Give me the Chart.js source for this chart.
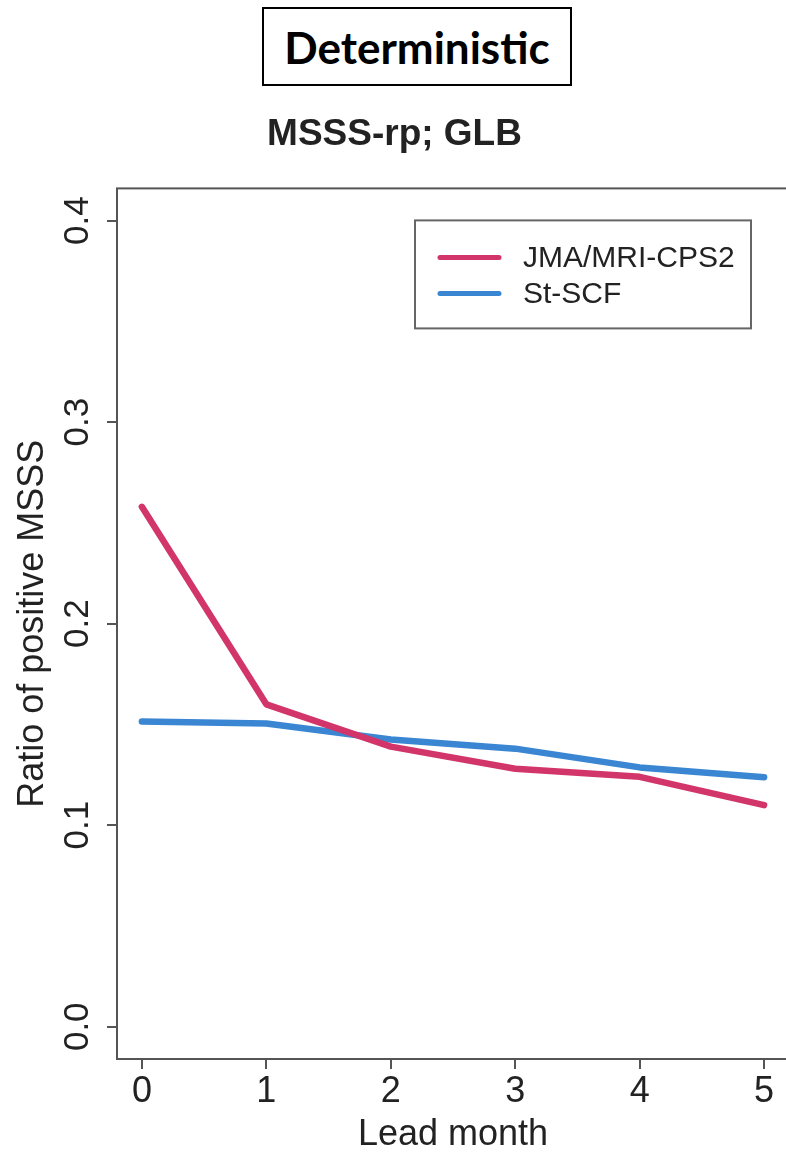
<!DOCTYPE html>
<html>
<head>
<meta charset="utf-8">
<script src="https://cdn.jsdelivr.net/npm/chart.js@4.4.1/dist/chart.umd.min.js"></script>
<style>
    html, body { margin: 0; padding: 0; background: #fff; overflow: hidden; }
    #wrap { position: relative; width: 786px; height: 1153px; overflow: hidden; background: #fff; }
    #chart { position: absolute; left: 0; top: 0; }
    #tag {
        position: absolute; left: 262px; top: 7px; width: 306px; height: 75px;
        border: 2px solid #000; background: #fff;
        font: bold 44px Lato, "Open Sans", sans-serif; color: #000;
        display: flex; align-items: center; justify-content: center;
    }
</style>
</head>
<body>
<div id="wrap">
    <canvas id="chart" width="792" height="1153"></canvas>
    <div id="tag">Deterministic</div>
</div>
<script>
const leadMonths = [0, 1, 2, 3, 4, 5];
const jmaValues = [0.258, 0.160, 0.139, 0.128, 0.124, 0.110];
const stScfValues = [0.1515, 0.1505, 0.1425, 0.138, 0.1287, 0.1238];
const xTicks = [0, 1, 2, 3, 4, 5];
const yTicks = [0, 0.1, 0.2, 0.3, 0.4];
const seriesNames = ["JMA/MRI-CPS2", "St-SCF"];

const textColor = "#222";
const axisColor = "#555";
const font = "'Liberation Sans', Arial, sans-serif";

// box, rotated y labels and legend the way R draws them
const rStyle = {
    id: "rStyle",
    afterDraw(chart) {
        const { ctx, chartArea, scales } = chart;
        ctx.save();
        ctx.strokeStyle = axisColor;
        ctx.lineWidth = 2;
        ctx.strokeRect(chartArea.left, chartArea.top,
            chartArea.right - chartArea.left, chartArea.bottom - chartArea.top);

        ctx.fillStyle = textColor;
        ctx.font = "35px " + font;
        ctx.textAlign = "center";
        ctx.textBaseline = "middle";
        scales.y.ticks.forEach((t) => {
            const y = scales.y.getPixelForValue(t.value);
            ctx.save();
            ctx.translate(chartArea.left - 39, y);
            ctx.rotate(-Math.PI / 2);
            ctx.fillText(t.value.toFixed(1), 0, 0);
            ctx.restore();
        });

        // legend
        const bx = chartArea.right - 374;
        const by = chartArea.top + 32;
        ctx.fillStyle = "#fff";
        ctx.fillRect(bx, by, 336, 108);
        ctx.strokeStyle = "#666";
        ctx.lineWidth = 2;
        ctx.strokeRect(bx, by, 336, 108);
        ctx.font = "30px " + font;
        ctx.textAlign = "left";
        chart.data.datasets.forEach((ds, i) => {
            const y = by + 37 + i * 36;
            ctx.strokeStyle = ds.borderColor;
            ctx.lineWidth = 5;
            ctx.lineCap = "round";
            ctx.beginPath();
            ctx.moveTo(bx + 25, y);
            ctx.lineTo(bx + 84, y);
            ctx.stroke();
            ctx.fillStyle = textColor;
            ctx.fillText(ds.label, bx + 108, y + 1);
        });
        ctx.restore();
    },
};

const ctx = document.getElementById("chart").getContext("2d");

const chart = new Chart(ctx, {
    type: "line",
    data: {
        datasets: [
            {
                label: seriesNames[0],
                data: leadMonths.map((m, i) => ({ x: m, y: jmaValues[i] })),
                borderColor: "#D2356A",
                borderWidth: 6.5,
                pointRadius: 0,
                borderCapStyle: "round",
                borderJoinStyle: "round",
                tension: 0,
            },
            {
                label: seriesNames[1],
                data: leadMonths.map((m, i) => ({ x: m, y: stScfValues[i] })),
                borderColor: "#3A86D2",
                borderWidth: 6.5,
                pointRadius: 0,
                borderCapStyle: "round",
                borderJoinStyle: "round",
                tension: 0,
            },
        ],
    },
    options: {
        responsive: false,
        animation: false,
        layout: { padding: { top: 113, left: 0, right: 3, bottom: 0 } },
        plugins: {
            legend: { display: false },
            tooltip: { enabled: false },
            title: {
                display: true,
                text: "MSSS-rp; GLB",
                color: textColor,
                font: { family: font, size: 37, weight: "bold" },
                padding: { top: 0, bottom: 31 },
            },
        },
        scales: {
            x: {
                type: "linear",
                min: -0.2,
                max: 5.2,
                afterBuildTicks: (scale) => {
                    scale.ticks = xTicks.map((v) => ({ value: v }));
                },
                afterFit: (scale) => {
                    scale.height = 94;
                },
                border: { display: false },
                grid: {
                    display: true,
                    drawOnChartArea: false,
                    drawTicks: true,
                    tickLength: 10,
                    color: axisColor,
                    lineWidth: 2,
                },
                ticks: {
                    color: textColor,
                    font: { family: font, size: 36 },
                    padding: 1,
                    maxRotation: 0,
                    callback: (v) => String(v),
                },
                title: {
                    display: true,
                    text: "Lead month",
                    color: textColor,
                    font: { family: font, size: 36, lineHeight: 1.0 },
                    padding: { top: 0, bottom: 0 },
                },
            },
            y: {
                min: -0.016,
                max: 0.416,
                afterBuildTicks: (scale) => {
                    scale.ticks = yTicks.map((v) => ({ value: v }));
                },
                afterFit: (scale) => {
                    scale.width = 117;
                },
                border: { display: false },
                grid: {
                    display: true,
                    drawOnChartArea: false,
                    drawTicks: true,
                    tickLength: 10,
                    color: axisColor,
                    lineWidth: 2,
                },
                ticks: { display: false },
                title: {
                    display: true,
                    text: "Ratio of positive MSSS",
                    color: textColor,
                    font: { family: font, size: 36 },
                    padding: { top: 11, bottom: 0 },
                },
            },
        },
    },
    plugins: [rStyle],
});
</script>
</body>
</html>
